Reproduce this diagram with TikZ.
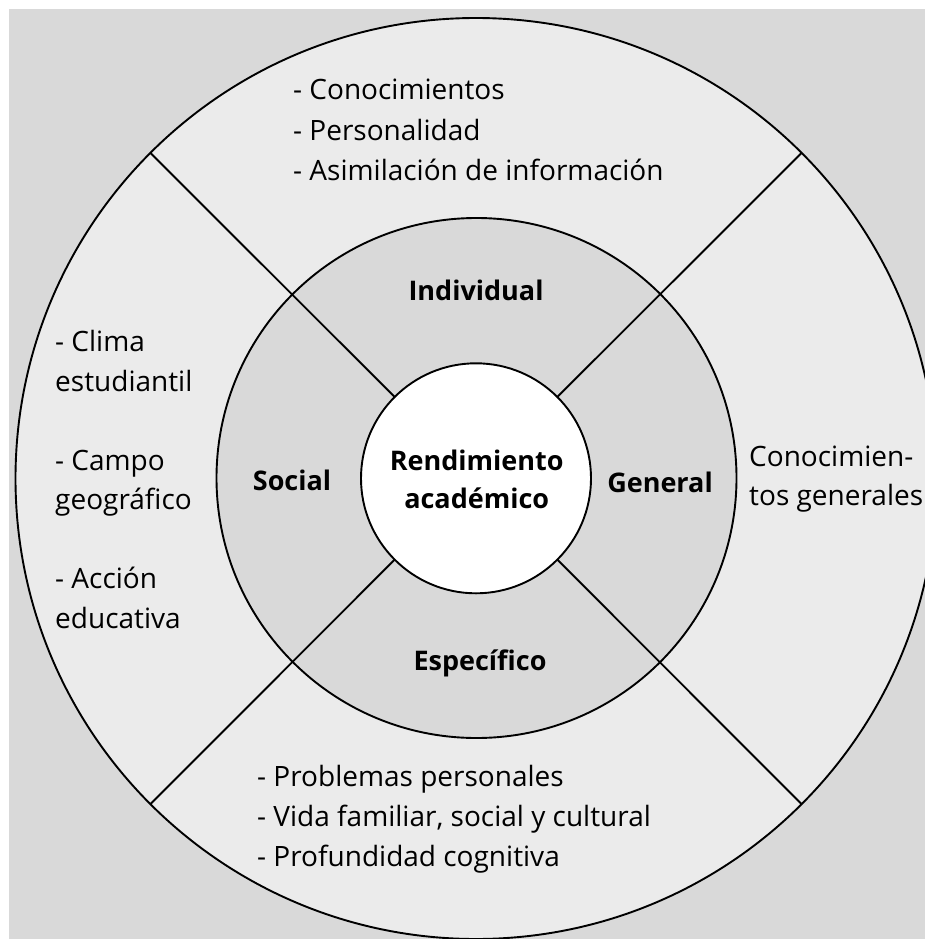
\documentclass[tikz,border=0pt]{standalone}
\usepackage{fontspec}
\setmainfont{Open Sans}
\definecolor{bgGray}{HTML}{D9D9D9}
\definecolor{outerGray}{HTML}{EBEBEB}
\definecolor{midGray}{HTML}{D9D9D9}
\begin{document}
\begin{tikzpicture}[x=1pt,y=-1pt,
  ringline/.style={draw=black,line width=1.9pt,circle,outer sep=0pt,inner sep=0pt},
  txt/.style={anchor=base west,inner sep=0pt,font=\fontsize{28}{40}\selectfont},
  lbl/.style={anchor=base,inner sep=0pt,font=\fontsize{27}{32}\selectfont\bfseries},
  divider/.style={draw=black,line width=1.9pt}]
\useasboundingbox (0,0) rectangle (925,939);
\clip (0,0) rectangle (925,939);
\fill[bgGray] (9,9) rectangle (925,939);
\node[ringline,fill=outerGray,minimum size=921pt] (outer) at (476,478.5) {};
\node[ringline,fill=midGray,minimum size=520pt] (middle) at (476.5,478) {};
\node[ringline,fill=white,minimum size=230pt] (inner) at (476,478.3) {};
\foreach \a in {45,135,225,315}{
  \draw[divider] (inner.\a) -- (outer.\a);
}
% top block
\node[txt] (t1) at (293,100) {- Conocimientos};
\node[txt] (t2) at (293,140.5) {- Personalidad};
\node[txt] (t3) at (293,180) {- Asimilación de información};
% left block
\node[txt] (l1) at (55,351.5) {- Clima};
\node[txt] (l2) at (55,391) {estudiantil};
\node[txt] (l3) at (55,470) {- Campo};
\node[txt] (l4) at (55,509.5) {geográfico};
\node[txt] (l5) at (55,588.5) {- Acción};
\node[txt] (l6) at (55,628) {educativa};
% bottom block
\node[txt] (b1) at (257,786.7) {- Problemas personales};
\node[txt] (b2) at (257,826.7) {- Vida familiar, social y cultural};
\node[txt] (b3) at (257,866) {- Profundidad cognitiva};
% right block
\node[txt] (r1) at (749,466.7) {Conocimien-};
\node[txt] (r2) at (749,505) {tos generales};
% bold labels
\node[lbl] (ind) at (476,300.7) {Individual};
\node[lbl] (soc) at (292,490.7) {Social};
\node[lbl] (gen) at (660,492) {General};
\node[lbl] (esp) at (480,670) {Específico};
\node[lbl] (ren1) at (476.7,470) {Rendimiento};
\node[lbl] (ren2) at (476.7,508) {académico};
\end{tikzpicture}
\end{document}
